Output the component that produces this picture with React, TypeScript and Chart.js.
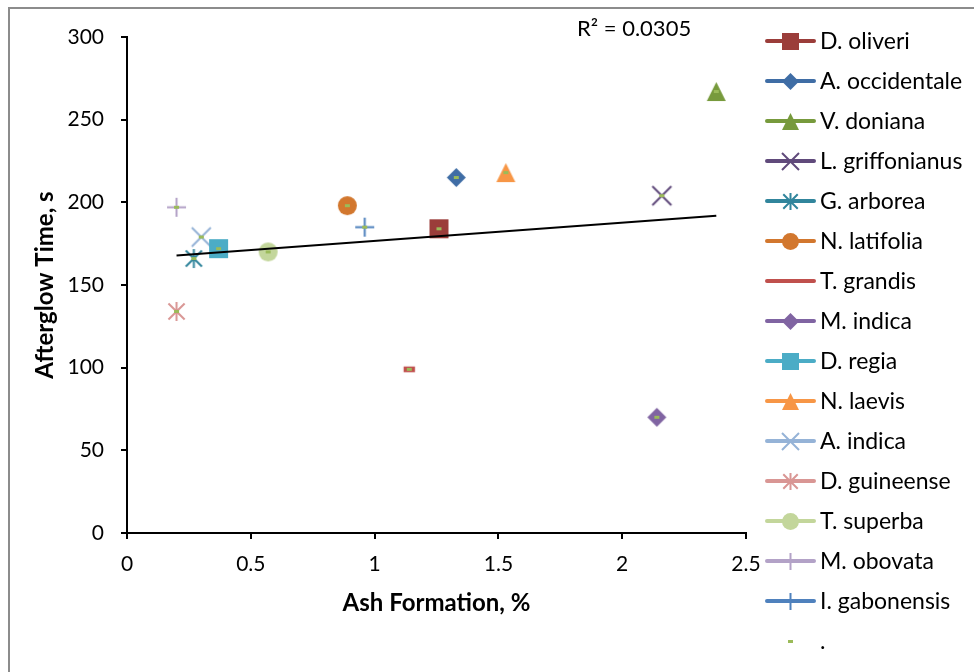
import { useEffect, useRef } from 'react';
import { Chart, registerables } from 'chart.js';

Chart.register(...registerables);

// ---------- data ----------
const SPECIES = [
  'D. oliveri', 'A. occidentale', 'V. doniana', 'L. griffonianus', 'G. arborea',
  'N. latifolia', 'T. grandis', 'M. indica', 'D. regia', 'N. laevis',
  'A. indica', 'D. guineense', 'T. superba', 'M. obovata', 'I. gabonensis',
];
const ASH = [1.26, 1.33, 2.38, 2.16, 0.27, 0.89, 1.14, 2.14, 0.37, 1.53, 0.30, 0.20, 0.57, 0.20, 0.96];
const AFTERGLOW = [184, 215, 267, 204, 166, 198, 99, 70, 172, 218, 179, 134, 170, 197, 185];
const ALL_LABEL = '.';
const R2_TEXT = 'R² = 0.0305';
const X_TICKS = [0, 0.5, 1, 1.5, 2, 2.5];
const Y_TICKS = [0, 50, 100, 150, 200, 250, 300];
const X_TITLE = 'Ash Formation, %';
const Y_TITLE = 'Afterglow Time, s';

// ---------- styles ----------
const COLORS = [
  '#9B3D3A', '#3F6DA5', '#779A3C', '#604A7B', '#31859C',
  '#D2772E', '#C0504D', '#8064A2', '#4BACC6', '#F79646',
  '#95B3D7', '#D99694', '#C3D69B', '#B3A2C7', '#4F81BD',
];
const MARKERS = [
  'square', 'diamond', 'triangle', 'x', 'star',
  'circle', 'dash', 'diamond', 'square', 'triangle',
  'x', 'star', 'circle', 'plus', 'plus',
];
const ALL_COLOR = '#9BBB59';
const FONT = 'Lato, "Open Sans", sans-serif';
const TICK_SIZE = 21;
const LEGEND_SIZE = 23;
const TITLE_SIZE = 24;
const R2_SIZE = 22;

function makeMarker(kind: string, color: string, s: number): HTMLCanvasElement {
  const W = Math.ceil(s) + 4;
  const c = document.createElement('canvas');
  c.width = W;
  c.height = W;
  const g = c.getContext('2d')!;
  const m = W / 2;
  const h = s / 2;
  g.fillStyle = color;
  g.strokeStyle = color;
  g.lineWidth = 2;
  g.beginPath();
  switch (kind) {
    case 'square':
      g.rect(m - h, m - h, s, s);
      g.fill();
      break;
    case 'diamond':
      g.moveTo(m, m - h); g.lineTo(m + h, m); g.lineTo(m, m + h); g.lineTo(m - h, m);
      g.closePath(); g.fill();
      break;
    case 'triangle':
      g.moveTo(m, m - h); g.lineTo(m + h, m + h); g.lineTo(m - h, m + h);
      g.closePath(); g.fill();
      break;
    case 'circle':
      g.arc(m, m, h, 0, Math.PI * 2); g.fill();
      break;
    case 'x':
      g.moveTo(m - h, m - h); g.lineTo(m + h, m + h);
      g.moveTo(m + h, m - h); g.lineTo(m - h, m + h);
      g.stroke();
      break;
    case 'star':
      g.moveTo(m - h * 0.85, m - h * 0.85); g.lineTo(m + h * 0.85, m + h * 0.85);
      g.moveTo(m + h * 0.85, m - h * 0.85); g.lineTo(m - h * 0.85, m + h * 0.85);
      g.moveTo(m, m - h); g.lineTo(m, m + h);
      g.stroke();
      break;
    case 'plus':
      g.moveTo(m - h, m); g.lineTo(m + h, m);
      g.moveTo(m, m - h); g.lineTo(m, m + h);
      g.stroke();
      break;
    case 'dash':
      g.rect(m - s * 0.3, m - s * 0.15, s * 0.6, s * 0.3);
      g.fill();
      break;
    case 'dot':
      g.rect(m - 2.5, m - 1.5, 5, 3);
      g.fill();
      break;
  }
  return c;
}

function regression(xs: number[], ys: number[]) {
  const n = xs.length;
  const mx = xs.reduce((a, b) => a + b, 0) / n;
  const my = ys.reduce((a, b) => a + b, 0) / n;
  let sxy = 0, sxx = 0;
  for (let i = 0; i < n; i++) {
    sxy += (xs[i] - mx) * (ys[i] - my);
    sxx += (xs[i] - mx) ** 2;
  }
  const b = sxy / sxx;
  return { a: my - b * mx, b };
}

const LEG = { lineX0: 767, lineX1: 814, textX: 820, top: 41, step: 40 };

const legendPlugin = {
  id: 'excelLegend',
  afterDraw(chart: any) {
    const ctx = chart.ctx as CanvasRenderingContext2D;
    ctx.save();
    ctx.textBaseline = 'middle';
    ctx.textAlign = 'left';
    let i = 0;
    chart.data.datasets.forEach((ds: any) => {
      if (ds.inLegend === false) return;
      const y = LEG.top + i * LEG.step;
      if (ds.legendLine) {
        ctx.beginPath();
        ctx.strokeStyle = ds.legendColor;
        ctx.lineWidth = 4;
        ctx.lineCap = 'round';
        ctx.moveTo(LEG.lineX0, y);
        ctx.lineTo(LEG.lineX1, y);
        ctx.stroke();
      }
      const img = ds.legendMarker as HTMLCanvasElement | null;
      if (img) {
        const cx = (LEG.lineX0 + LEG.lineX1) / 2;
        ctx.drawImage(img, Math.round(cx - img.width / 2), Math.round(y - img.height / 2));
      }
      ctx.font = `${LEGEND_SIZE}px ${FONT}`;
      ctx.fillStyle = '#000';
      ctx.fillText(ds.label, LEG.textX, y + 1);
      i++;
    });
    // R² label of the trendline
    ctx.font = `${R2_SIZE}px ${FONT}`;
    ctx.fillText(R2_TEXT, 577, 29);
    ctx.restore();
  },
};

export default function App() {
  const ref = useRef<HTMLCanvasElement>(null);

  useEffect(() => {
    const canvas = ref.current!;
    const { a, b } = regression(ASH, AFTERGLOW);
    const minX = Math.min(...ASH);
    const maxX = Math.max(...ASH);

    const seriesSets = SPECIES.map((name, i) => ({
      label: name,
      data: [{ x: ASH[i], y: AFTERGLOW[i] }],
      pointStyle: makeMarker(MARKERS[i], COLORS[i], 19),
      legendMarker: MARKERS[i] === 'dash' ? null : makeMarker(MARKERS[i], COLORS[i], 17),
      legendLine: true,
      legendColor: COLORS[i],
      order: 1,
    }));

    const allSet = {
      label: ALL_LABEL,
      data: ASH.map((x, i) => ({ x, y: AFTERGLOW[i] })),
      pointStyle: makeMarker('dot', ALL_COLOR, 5),
      legendMarker: makeMarker('dot', ALL_COLOR, 5),
      legendLine: false,
      legendColor: ALL_COLOR,
      order: -1,
    };

    const trendSet = {
      label: 'trend',
      type: 'line',
      data: [
        { x: minX, y: a + b * minX },
        { x: maxX, y: a + b * maxX },
      ],
      borderColor: '#000',
      borderWidth: 2,
      pointRadius: 0,
      fill: false,
      inLegend: false,
      order: 0,
    };

    const tickFont = { family: FONT, size: TICK_SIZE };
    const titleFont = { family: FONT, size: TITLE_SIZE, weight: 'bold' as const };

    const chart = new Chart(canvas, {
      type: 'scatter',
      data: { datasets: [...seriesSets, allSet, trendSet] as any },
      options: {
        animation: false,
        responsive: false,
        maintainAspectRatio: false,
        layout: { padding: { left: 20, top: 37, right: 228, bottom: 0 } },
        plugins: { legend: { display: false }, tooltip: { enabled: false } },
        scales: {
          x: {
            type: 'linear',
            min: 0,
            max: 2.5,
            afterBuildTicks: (s: any) => { s.ticks = X_TICKS.map((v) => ({ value: v })); },
            afterFit: (s: any) => { s.height = 139; },
            grid: { drawOnChartArea: false, drawTicks: true, tickLength: 6, color: '#000', lineWidth: 2 },
            border: { display: true, color: '#000', width: 2 },
            ticks: { font: tickFont, color: '#000', padding: 13, maxRotation: 0, callback: (v: any) => String(v) },
            title: { display: true, text: X_TITLE, font: titleFont, color: '#000', padding: { top: 0, bottom: 54 } },
          },
          y: {
            type: 'linear',
            min: 0,
            max: 300,
            afterBuildTicks: (s: any) => { s.ticks = Y_TICKS.map((v) => ({ value: v })); },
            afterFit: (s: any) => { s.width = 107; },
            grid: { drawOnChartArea: false, drawTicks: true, tickLength: 6, color: '#000', lineWidth: 2 },
            border: { display: true, color: '#000', width: 2 },
            ticks: { font: tickFont, color: '#000', padding: 17, callback: (v: any) => String(v) },
            title: { display: true, text: Y_TITLE, font: titleFont, color: '#000', padding: { top: 11, bottom: 0 } },
          },
        },
      },
      plugins: [legendPlugin],
    });
    return () => chart.destroy();
  }, []);

  return (
    <div style={{ position: 'fixed', left: 0, top: 0, width: 974, height: 672, overflow: 'hidden', background: '#fff' }}>
      <div
        style={{
          position: 'absolute', left: 8, top: 7, width: 2000, height: 2000,
          borderLeft: '2px solid #8c8c8c', borderTop: '2px solid #8c8c8c',
        }}
      />
      <canvas ref={ref} width={974} height={672} style={{ position: 'absolute', left: 0, top: 0 }} />
    </div>
  );
}
